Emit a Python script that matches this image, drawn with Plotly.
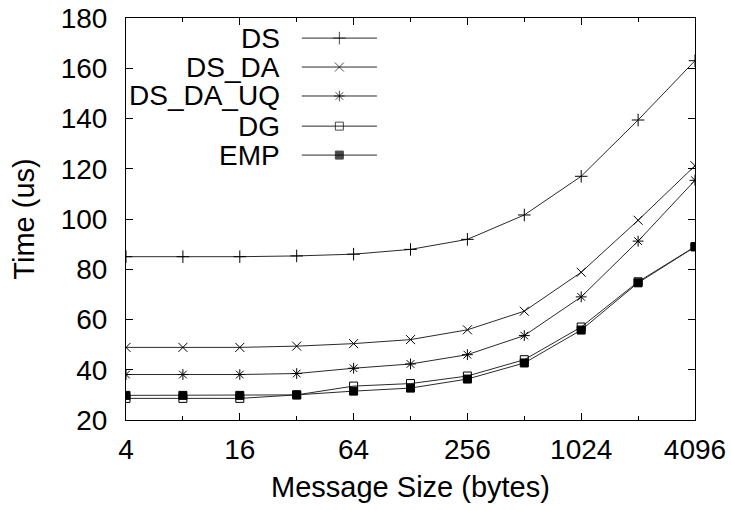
import plotly.graph_objects as go

# Message sizes in bytes (powers of two)
sizes = [4, 8, 16, 32, 64, 128, 256, 512, 1024, 2048, 4096]

# Latency in microseconds for each variant
ds = [85.0, 85.0, 85.0, 85.3, 86.0, 87.9, 91.9, 101.6, 117.0, 139.4, 163.0]
ds_da = [48.9, 48.9, 48.9, 49.4, 50.4, 52.0, 55.9, 63.3, 78.8, 99.5, 121.2]
ds_da_uq = [38.1, 38.1, 38.1, 38.5, 40.6, 42.3, 46.0, 53.6, 69.0, 91.2, 115.4]
dg = [28.6, 28.6, 28.6, 30.0, 33.5, 34.5, 37.5, 44.0, 57.0, 75.0, 89.0]
emp = [29.8, 29.8, 29.8, 30.0, 31.5, 32.7, 36.3, 42.7, 55.8, 74.6, 88.9]

series_names = ["DS", "DS_DA", "DS_DA_UQ", "DG", "EMP"]
series_values = [ds, ds_da, ds_da_uq, dg, emp]
series_symbols = ["cross-thin-open", "x-thin-open", "asterisk-open", "square-open", "square"]
series_sizes = [9, 9, 9, 8, 8]

x_tickvals = [4, 16, 64, 256, 1024, 4096]
x_minorvals = [8, 32, 128, 512, 2048]
y_tickvals = [20, 40, 60, 80, 100, 120, 140, 160, 180]

FONT = "Liberation Sans, Arial, sans-serif"
FS = 28
TITLE_FS = 29
LINE = "#2a2a2a"

fig = go.Figure()

for name, vals, sym, sz in zip(series_names, series_values, series_symbols, series_sizes):
    fig.add_trace(go.Scatter(
        x=sizes, y=vals, mode="lines+markers", name=name,
        line=dict(color=LINE, width=1),
        marker=dict(symbol=sym, size=sz, color="black",
                    line=dict(color="black", width=1)),
        showlegend=False,
    ))

# Key drawn inside the plot area on an overlay axis in [0, 1] units
key_text_x = 0.274
key_x0, key_x1 = 0.309, 0.441
key_rows = [0.950, 0.878, 0.806, 0.731, 0.659]
for name, sym, sz, ky in zip(series_names, series_symbols, series_sizes, key_rows):
    fig.add_trace(go.Scatter(
        x=[key_x0, (key_x0 + key_x1) / 2, key_x1], y=[ky, ky, ky],
        xaxis="x2", yaxis="y2", mode="lines+markers",
        line=dict(color=LINE, width=1),
        marker=dict(symbol=sym, size=[0, sz, 0], color="black",
                    line=dict(color="black", width=1)),
        showlegend=False, hoverinfo="skip",
    ))
    fig.add_annotation(
        x=key_text_x, y=ky, xref="paper", yref="paper",
        text=name, showarrow=False, xanchor="right", yanchor="middle",
        font=dict(family=FONT, size=FS, color="black"),
    )

fig.update_layout(
    width=731, height=510,
    margin=dict(l=126, r=36, t=18, b=90),
    paper_bgcolor="white", plot_bgcolor="white",
    font=dict(family=FONT, size=FS, color="black"),
    xaxis=dict(
        type="log", range=[0.60206, 3.61236], automargin=False,
        tickvals=x_tickvals, ticktext=[str(v) for v in x_tickvals],
        ticks="inside", ticklen=7, tickwidth=1, tickcolor="black",
        minor=dict(tickvals=x_minorvals, ticks="inside", ticklen=4,
                   tickwidth=1, tickcolor="black", showgrid=False),
        showline=True, linecolor="black", linewidth=1, mirror="ticks",
        showgrid=False, zeroline=False,
        tickfont=dict(family=FONT, size=FS),
        ticklabelstandoff=4,
        title=dict(text="Message Size (bytes)", font=dict(family=FONT, size=TITLE_FS), standoff=13),
    ),
    yaxis=dict(
        range=[20, 180], tickvals=y_tickvals, automargin=False,
        ticks="inside", ticklen=7, tickwidth=1, tickcolor="black",
        showline=True, linecolor="black", linewidth=1, mirror="ticks",
        showgrid=False, zeroline=False,
        tickfont=dict(family=FONT, size=FS),
        ticklabelstandoff=12,
        title=dict(text="Time (us)", font=dict(family=FONT, size=TITLE_FS), standoff=17),
    ),
    xaxis2=dict(overlaying="x", range=[0, 1], visible=False, fixedrange=True),
    yaxis2=dict(overlaying="y", range=[0, 1], visible=False, fixedrange=True),
)

fig.write_html("out.html")
